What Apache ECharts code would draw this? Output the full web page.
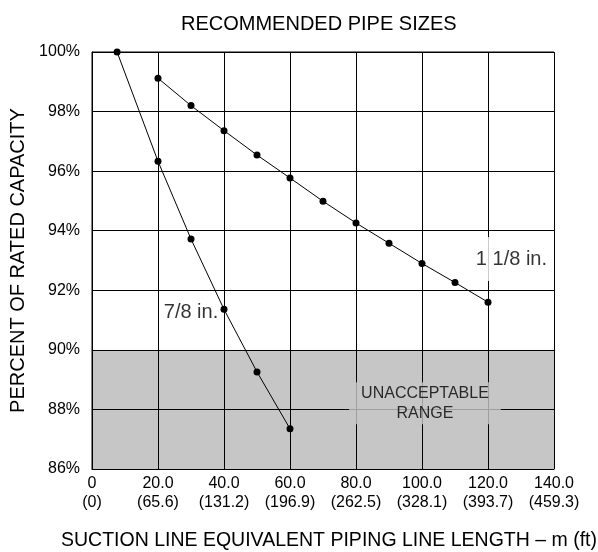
<!DOCTYPE html>
<html>
<head>
<meta charset="utf-8">
<script src="https://cdn.jsdelivr.net/npm/echarts@6/dist/echarts.min.js"></script>
<style>
  html, body { margin: 0; padding: 0; background: #fff; }
  #chart { width: 598px; height: 552px; }
</style>
</head>
<body>
<div id="chart"></div>
<script>
// Equivalent line length (m) and resulting percent of rated capacity, per pipe size
const length78 = [7.6, 20, 30, 40, 50, 60];
const capacity78 = [100, 96.33, 93.72, 91.36, 89.26, 87.35];

const length118 = [20, 30, 40, 50, 60, 70, 80, 90, 100, 110, 120];
const capacity118 = [99.12, 98.2, 97.36, 96.54, 95.77, 94.99, 94.26, 93.58, 92.9, 92.26, 91.6];

// Axis tick labels: metres on the first line, feet underneath
const xTickMetres = ['0', '20.0', '40.0', '60.0', '80.0', '100.0', '120.0', '140.0'];
const xTickFeet = ['(0)', '(65.6)', '(131.2)', '(196.9)', '(262.5)', '(328.1)', '(393.7)', '(459.3)'];

// Capacity below this level is unacceptable
const unacceptableBelow = 90;

// Curve names and the band caption
const noteText = ['7/8 in.', '1 1/8 in.', 'UNACCEPTABLE\nRANGE'];
const noteLength = [30, 127.1, 100.9];
const noteCapacity = [91.27, 93.05, 88.21];

const FONT = '"Liberation Sans", Arial, Helvetica, sans-serif';
const INK = '#000';
const BAND = '#c6c6c6';

const yMin = 86, yMax = 100, yStep = 2;
// one colour per 2 % band, grey under the acceptable limit
const bandColors = [];
for (let v = yMin; v < yMax; v += yStep) {
  bandColors.push(v < unacceptableBelow ? BAND : '#ffffff');
}

const pairs = (xs, ys) => xs.map((x, i) => [x, ys[i]]);

const chart = echarts.init(document.getElementById('chart'), null, { renderer: 'canvas' });

chart.setOption({
  animation: false,
  backgroundColor: '#ffffff',
  title: {
    text: 'RECOMMENDED PIPE SIZES',
    left: 176,
    top: 9,
    textStyle: { fontFamily: FONT, fontSize: 20, fontWeight: 'normal', color: INK }
  },
  grid: {
    left: 92, top: 52, width: 462, height: 417,
    outerBoundsMode: 'none',
    containLabel: false,
    show: true, borderColor: INK, borderWidth: 1, backgroundColor: 'transparent'
  },
  xAxis: {
    type: 'value',
    min: 0, max: 140, interval: 20,
    name: 'SUCTION LINE EQUIVALENT PIPING LINE LENGTH \u2013 m (ft)',
    nameLocation: 'middle',
    nameGap: 62,
    nameTextStyle: { fontFamily: FONT, fontSize: 19.5, color: INK, padding: [0, 0, 0, 12] },
    axisLine: { show: true, lineStyle: { color: INK, width: 1 } },
    axisTick: { show: false },
    axisLabel: {
      fontFamily: FONT, fontSize: 16, color: INK, lineHeight: 19, margin: 5,
      formatter: v => {
        const i = Math.round(v / 20);
        return xTickMetres[i] + '\n' + xTickFeet[i];
      }
    },
    splitLine: { show: true, lineStyle: { color: INK, width: 1 } }
  },
  yAxis: {
    type: 'value',
    min: yMin, max: yMax, interval: yStep,
    name: 'PERCENT OF RATED CAPACITY',
    nameLocation: 'middle',
    nameGap: 64,
    nameTextStyle: { fontFamily: FONT, fontSize: 20, color: INK },
    axisLine: { show: true, lineStyle: { color: INK, width: 1 } },
    axisTick: { show: false },
    axisLabel: { fontFamily: FONT, fontSize: 16, color: INK, margin: 12, formatter: '{value}%' },
    splitLine: { show: true, lineStyle: { color: INK, width: 1 } },
    splitArea: { show: true, areaStyle: { color: bandColors } }
  },
  series: [
    {
      name: '7/8 in.',
      type: 'line',
      data: pairs(length78, capacity78),
      symbol: 'circle', symbolSize: 7,
      itemStyle: { color: INK },
      lineStyle: { color: INK, width: 1 },
      z: 3
    },
    {
      name: '1 1/8 in.',
      type: 'line',
      data: pairs(length118, capacity118),
      symbol: 'circle', symbolSize: 7,
      itemStyle: { color: INK },
      lineStyle: { color: INK, width: 1 },
      z: 3
    },
    {
      name: 'notes',
      type: 'scatter',
      symbolSize: 0,
      silent: true,
      z: 4,
      itemStyle: { color: 'transparent' },
      data: noteText.map((t, i) => {
        const base = { value: [noteLength[i], noteCapacity[i]] };
        if (i === 0) {
          base.label = { formatter: t };
        } else if (i === 1) {
          base.label = { formatter: t, backgroundColor: '#ffffff', padding: [12, 4] };
        } else {
          base.label = {
            formatter: t, fontSize: 16, lineHeight: 20,
            backgroundColor: BAND, padding: [1, 12]
          };
        }
        return base;
      }),
      label: {
        show: true,
        position: 'inside',
        fontFamily: FONT, fontSize: 20, color: INK, align: 'center',
        textBorderWidth: 0, textBorderColor: 'transparent'
      }
    }
  ]
});
</script>
</body>
</html>
